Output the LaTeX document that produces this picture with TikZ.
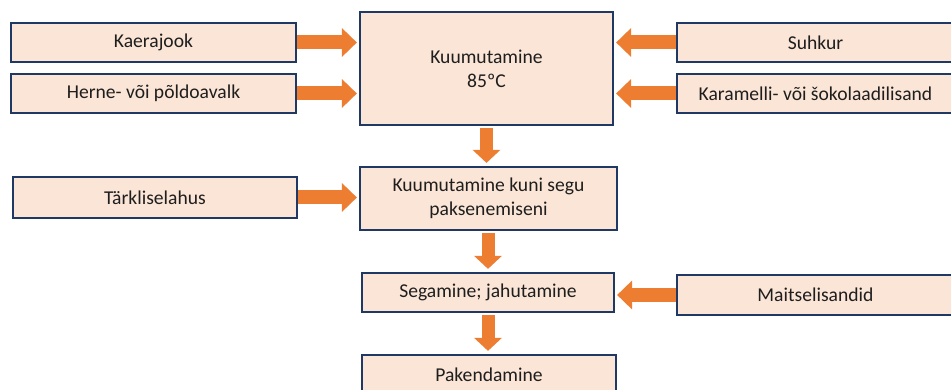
\documentclass[tikz,border=0pt]{standalone}
\usepackage{fontspec}
\setmainfont{Carlito}
\usetikzlibrary{arrows.meta,calc}
\definecolor{boxfill}{HTML}{FBE5D6}
\definecolor{boxline}{HTML}{1F3864}
\definecolor{arr}{HTML}{ED7D31}
\definecolor{txt}{HTML}{1E1E1E}
\tikzset{
  procbox/.style={draw=boxline, line width=2.2pt, fill=boxfill, text=txt,
    font=\fontsize{19.6}{24}\selectfont, align=center, inner sep=0pt},
  fatarrow/.style={draw=arr, line width=14pt,
    -{Triangle[width=28pt,length=15pt]}, shorten >=2pt},
  fatarrowv/.style={draw=arr, line width=13pt,
    -{Triangle[width=27pt,length=13pt]}, shorten >=3pt, shorten <=2pt},
}
\begin{document}
\begin{tikzpicture}[x=1pt,y=-1pt]
\useasboundingbox (0,0) rectangle (951,390);
\clip (0,0) rectangle (951,390);
% boxes
\node[procbox, minimum width=285pt, minimum height=39pt] (kaera) at (153.5,42.5) {Kaerajook};
\node[procbox, minimum width=285pt, minimum height=39pt] (herne) at (153.5,93.5) {Herne- või põldoavalk};
\node[procbox, minimum width=253pt, minimum height=113pt] (kuum) at (486.5,68.5) {Kuumutamine\\85ºC};
\node[procbox, minimum width=277pt, minimum height=39pt] (suhkur) at (815.5,42.5) {Suhkur};
\node[procbox, minimum width=277pt, minimum height=39pt] (karam) at (815.5,93.5) {Karamelli- või šokolaadilisand};
\node[procbox, minimum width=284pt, minimum height=41pt] (tark) at (155,197.5) {Tärkliselahus};
\node[procbox, minimum width=257pt, minimum height=63pt] (kuni) at (488.5,198.5) {Kuumutamine kuni segu\\paksenemiseni};
\node[procbox, minimum width=252pt, minimum height=39pt] (segam) at (488,292.5) {Segamine; jahutamine};
\node[procbox, minimum width=277pt, minimum height=40pt] (mait) at (815.5,295) {Maitselisandid};
\node[procbox, minimum width=254pt, minimum height=40pt] (pak) at (489,375) {Pakendamine};
% horizontal arrows
\draw[fatarrow] (kaera.east) -- (kaera.east -| kuum.west);
\draw[fatarrow] (herne.east) -- (herne.east -| kuum.west);
\draw[fatarrow] (suhkur.west) -- (suhkur.west -| kuum.east);
\draw[fatarrow] (karam.west) -- (karam.west -| kuum.east);
\draw[fatarrow] (tark.east) -- (tark.east -| kuni.west);
\draw[fatarrow] (mait.west) -- (mait.west -| segam.east);
% vertical arrows
\draw[fatarrowv] (kuum.south) -- (kuum.south |- kuni.north);
\draw[fatarrowv] (kuni.south -| segam.north) -- (segam.north);
\draw[fatarrowv] (segam.south) -- (segam.south |- pak.north);
\end{tikzpicture}
\end{document}
